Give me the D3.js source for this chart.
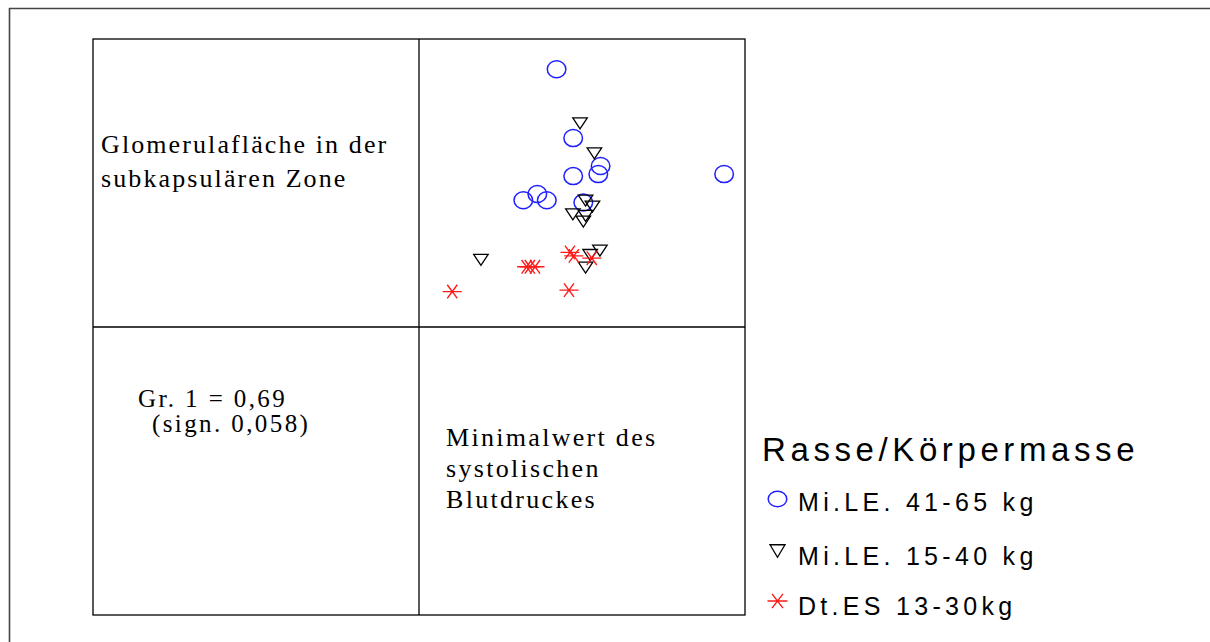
<!DOCTYPE html>
<html>
<head>
<meta charset="utf-8">
<script src="https://cdn.jsdelivr.net/npm/d3@7"></script>
<style>
  html, body { margin: 0; padding: 0; background: #fff; }
  svg { display: block; }
</style>
</head>
<body>
<svg id="chart" width="1210" height="642"></svg>
<script>
// ---------- data (x: Minimalwert des systolischen Blutdruckes, y: Glomerulafläche, arbitrary units 0-100) ----------
const groupNames = ["Mi.LE. 41-65 kg", "Mi.LE. 15-40 kg", "Dt.ES 13-30kg"];
const legendTitle = "Rasse/Körpermasse";

const g1x = [42.2, 47.3, 55.7, 55.0, 47.3, 93.6, 36.3, 32.0, 39.2, 50.4];
const g1y = [89.5, 65.6, 55.9, 53.1, 52.4, 53.1, 46.2, 44.0, 44.0, 43.2];

const g2x = [49.4, 53.8, 51.1, 53.2, 47.2, 51.1, 50.4, 55.5, 52.5, 51.1, 19.0];
const g2y = [70.7, 60.3, 43.9, 41.8, 39.1, 38.6, 36.6, 26.5, 25.0, 20.6, 23.3];

const g3x = [10.2, 46.0, 46.3, 47.5, 33.0, 34.0, 35.6, 53.0];
const g3y = [12.3, 12.8, 25.9, 24.7, 20.9, 20.9, 20.9, 23.9];

const yLabelLines = ["Glomerulafläche in der", "subkapsulären Zone"];
const xLabelLines = ["Minimalwert des", "systolischen", "Blutdruckes"];
const statLines = ["Gr. 1 = 0,69", "(sign. 0,058)"];

// ---------- layout ----------
const svg = d3.select("#chart");
const grid = { left: 93, top: 39, right: 745, bottom: 615 };
const midX = 419, midY = 327;

// outer frame (top + left only)
svg.append("line").attr("x1", 9).attr("y1", 8.5).attr("x2", 1210).attr("y2", 8.5)
  .attr("stroke", "#444").attr("stroke-width", 1.6);
svg.append("line").attr("x1", 9.5).attr("y1", 8).attr("x2", 9.5).attr("y2", 642)
  .attr("stroke", "#444").attr("stroke-width", 1.6);

// matrix grid
const gridG = svg.append("g").attr("fill", "none").attr("stroke", "#000").attr("stroke-width", 1.3);
gridG.append("rect").attr("x", grid.left).attr("y", grid.top)
  .attr("width", grid.right - grid.left).attr("height", grid.bottom - grid.top);
gridG.append("line").attr("x1", midX).attr("x2", midX).attr("y1", grid.top).attr("y2", grid.bottom);
gridG.append("line").attr("x1", grid.left).attr("x2", grid.right).attr("y1", midY).attr("y2", midY);

// scales for the scatter cell (top-right)
const x = d3.scaleLinear().domain([0, 100]).range([midX, grid.right]);
const y = d3.scaleLinear().domain([0, 100]).range([midY, grid.top]);

function drawCircle(g, cx, cy, rx, ry) {
  g.append("ellipse").attr("cx", cx).attr("cy", cy).attr("rx", rx).attr("ry", ry)
    .attr("fill", "none").attr("stroke", "#1f1fff").attr("stroke-width", 1.5);
}
function drawTri(g, cx, cy, w, h) {
  g.append("path")
    .attr("d", `M${cx - w / 2},${cy - h / 2}L${cx + w / 2},${cy - h / 2}L${cx},${cy + h / 2}Z`)
    .attr("fill", "none").attr("stroke", "#000").attr("stroke-width", 1.3)
    .attr("stroke-linejoin", "miter");
}
function drawStar(g, cx, cy, hw, dx, dy) {
  g.append("path")
    .attr("d", `M${cx - hw},${cy}L${cx + hw},${cy}M${cx - dx},${cy - dy}L${cx + dx},${cy + dy}M${cx - dx},${cy + dy}L${cx + dx},${cy - dy}`)
    .attr("fill", "none").attr("stroke", "#ff1a1a").attr("stroke-width", 1.4);
}

const pts = svg.append("g");
g1x.forEach((v, i) => drawCircle(pts, x(v), y(g1y[i]), 9.3, 8.5));
g2x.forEach((v, i) => drawTri(pts, x(v), y(g2y[i]), 14.5, 11));
g3x.forEach((v, i) => drawStar(pts, x(v), y(g3y[i]), 9.5, 5, 6.8));

// texts
const serif = "'Liberation Serif', 'Times New Roman', serif";
const sans = "'Liberation Sans', Arial, sans-serif";

function textLines(lines, xs, ys, font, size, ls) {
  lines.forEach((t, i) => {
    svg.append("text").attr("x", xs[i]).attr("y", ys[i])
      .attr("font-family", font).attr("font-size", size)
      .attr("letter-spacing", ls).attr("fill", "#000").text(t);
  });
}
textLines(yLabelLines, [101, 101], [153, 187], serif, 26, 2.1);
textLines(statLines, [138, 152], [407, 432], serif, 25, 2.4);
textLines(xLabelLines, [446, 446, 446], [446, 477, 508], serif, 26, 2.3);

// legend
svg.append("text").attr("x", 762).attr("y", 461)
  .attr("font-family", sans).attr("font-size", 33).attr("letter-spacing", 4.6)
  .attr("fill", "#000").text(legendTitle);
const legY = [511, 565, 615];
const markerY = [499, 551, 601];
groupNames.forEach((n, i) => {
  svg.append("text").attr("x", 798).attr("y", legY[i])
    .attr("font-family", sans).attr("font-size", 25).attr("letter-spacing", 4.3)
    .attr("fill", "#000").text(n);
});
const lg = svg.append("g");
drawCircle(lg, 777.5, markerY[0], 9.3, 7.8);
drawTri(lg, 777.5, markerY[1], 15, 12.5);
drawStar(lg, 777.5, markerY[2], 10, 5.5, 7.2);
</script>
</body>
</html>
